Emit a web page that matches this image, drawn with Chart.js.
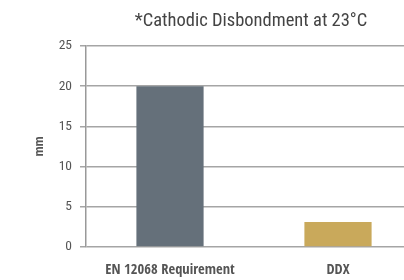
<!DOCTYPE html>
<html>
<head>
<meta charset="utf-8">
<script src="https://cdn.jsdelivr.net/npm/chart.js@4"></script>
<style>
html,body{margin:0;padding:0;background:#fff;overflow:hidden;width:404px;height:280px;}
#wrap{position:absolute;left:0;top:0;width:422px;height:280px;}
</style>
</head>
<body>
<div id="wrap"><canvas id="c" width="422" height="280"></canvas></div>
<script>
const categories = ["EN 12068 Requirement", "DDX"];
const values = [20, 3.1];
const barColors = ["#65707a", "#c9a95b"];
const yTicks = [0, 5, 10, 15, 20, 25];
const titleText = "*Cathodic Disbondment at 23°C";
const yAxisTitle = "mm";

const LIGHT = "'Roboto Condensed', 'DejaVu Sans Condensed', sans-serif";
const BOLD = "'Open Sans Condensed', 'Roboto Condensed', sans-serif";

const titlePlugin = {
  id: 'centeredTitle',
  afterDraw(chart) {
    const ctx = chart.ctx;
    ctx.save();
    ctx.font = "18.5px " + LIGHT;
    ctx.fillStyle = "#444";
    ctx.textAlign = "center";
    ctx.textBaseline = "alphabetic";
    ctx.fillText(titleText, 251, 26);
    ctx.restore();
  }
};

new Chart(document.getElementById('c'), {
  type: 'bar',
  data: {
    labels: categories,
    datasets: [{
      data: values,
      backgroundColor: barColors,
      borderWidth: 0,
      barPercentage: 0.4,
      categoryPercentage: 1.0
    }]
  },
  options: {
    responsive: false,
    animation: false,
    events: [],
    layout: { padding: { top: 46, right: 0, bottom: 0, left: 0 } },
    plugins: { legend: { display: false }, tooltip: { enabled: false }, title: { display: false } },
    scales: {
      x: {
        grid: { display: false },
        border: { display: false },
        ticks: {
          color: "#555",
          font: { family: BOLD, size: 14.5, weight: 'bold' },
          padding: 7,
          maxRotation: 0
        },
        afterFit(s) { s.height = 33; }
      },
      y: {
        min: 0, max: 25,
        afterBuildTicks(s) { s.ticks = yTicks.map(v => ({ value: v })); },
        grid: { color: "#a5a5a5", lineWidth: 1.5, tickLength: 6, drawTicks: true },
        border: { display: true, color: "#999", width: 1.5 },
        ticks: {
          color: "#555",
          font: { family: LIGHT, size: 13.5 },
          padding: 8
        },
        title: {
          display: true, text: yAxisTitle, color: "#555",
          font: { family: BOLD, size: 13, weight: 'bold' },
          padding: { top: 32, bottom: 0 }
        },
        afterFit(s) { s.width = 86; }
      }
    }
  },
  plugins: [titlePlugin]
});
</script>
</body>
</html>
